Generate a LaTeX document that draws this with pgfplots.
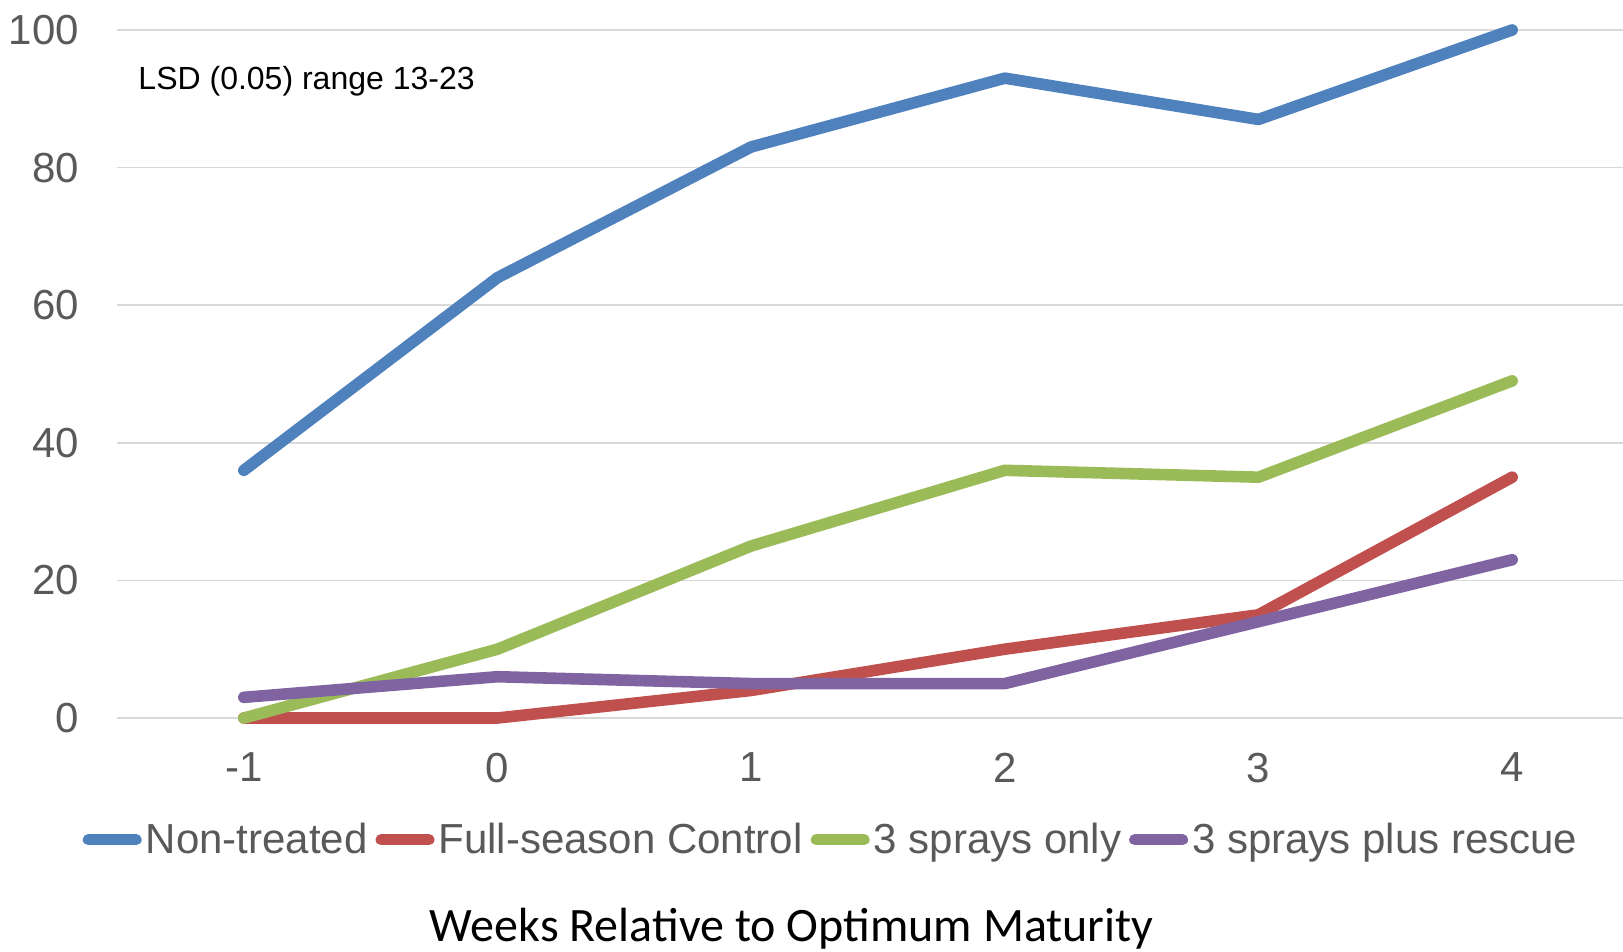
\documentclass[border=0pt]{standalone}
\usepackage{fontspec}
\setmainfont{Liberation Sans}
\newfontfamily\calibri{Carlito}
\usepackage{pgfplots}
\pgfplotsset{compat=1.18}
\definecolor{cblue}{HTML}{4F81BD}
\definecolor{cred}{HTML}{C0504D}
\definecolor{cgreen}{HTML}{9BBB59}
\definecolor{cpurple}{HTML}{8064A2}
\definecolor{gridgray}{HTML}{D9D9D9}
\definecolor{labelgray}{HTML}{595959}
\begin{document}
\begin{tikzpicture}
\begin{axis}[
  scale only axis, width=753pt, height=344pt,
  xmin=-1.5, xmax=4.437, ymin=0, ymax=100,
  xtick={-1,0,1,2,3,4}, ytick={0,20,40,60,80,100},
  ymajorgrids, major grid style={draw=gridgray, line width=0.75pt},
  axis line style={draw=none}, major tick length=0pt,
  tick label style={font=\fontsize{21}{25}\selectfont, text=labelgray},
  /pgf/number format/assume math mode=true,
  yticklabel style={xshift=-15.5pt},
  xticklabel style={yshift=-14pt},
  clip=false,
  legend style={at={(0.4748,-0.177)}, anchor=center, draw=none, fill=none,
    legend columns=-1, font=\fontsize{21}{25}\selectfont, text=labelgray,
    /tikz/every even column/.append style={column sep=2pt},
    /tikz/every odd column/.append style={column sep=0pt},
    legend cell align=left, inner sep=0pt},
  legend image code/.code={\draw[#1, line width=5.5pt, line cap=round] (0pt,0pt) -- (24pt,0pt);},
  every axis plot/.append style={line width=5.8pt, line cap=round, line join=round},
]
\addplot[cblue, no markers] coordinates {(-1,36) (0,64) (1,83) (2,93) (3,87) (4,100)};
\addlegendentry{Non-treated}
\addplot[cred, no markers] coordinates {(-1,0) (0,0) (1,4) (2,10) (3,15) (4,35)};
\addlegendentry{Full-season Control}
\addplot[cgreen, no markers] coordinates {(-1,0) (0,10) (1,25) (2,36) (3,35) (4,49)};
\addlegendentry{3 sprays only}
\addplot[cpurple, no markers] coordinates {(-1,3) (0,6) (1,5) (2,5) (3,14) (4,23)};
\addlegendentry{3 sprays plus rescue}
\node[anchor=west, font=\fontsize{16}{19}\selectfont, inner sep=0pt] at (rel axis cs:0.014,0.926) {LSD (0.05) range 13-23};
\node[font=\calibri\fontsize{24}{29}\selectfont] at (rel axis cs:0.448,-0.306) {Weeks Relative to Optimum Maturity};
\end{axis}
\pgfresetboundingbox
\path (current axis.south west) ++(-58.5pt,-117pt) rectangle ++(811.5pt,476pt);
\end{tikzpicture}
\end{document}
